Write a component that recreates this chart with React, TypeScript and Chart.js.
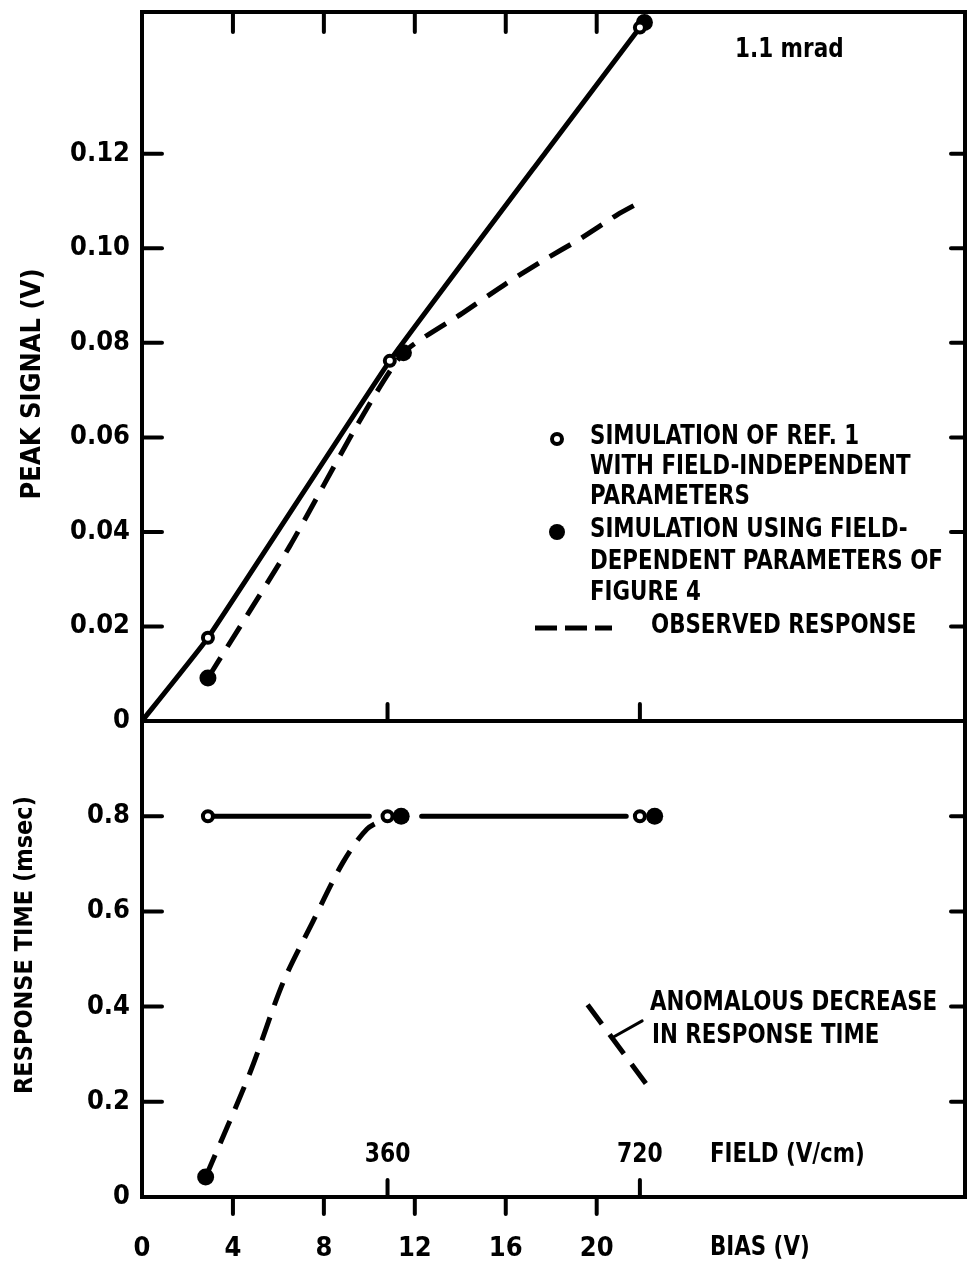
import React, { useEffect, useRef } from 'react';
import { Chart, registerables } from 'chart.js';
Chart.register(...registerables);

// ---------- data ----------
const BIAS_TICKS = [0, 4, 8, 12, 16, 20];
const TOP_TICKS_BIAS = [4, 8, 12, 16, 20];
const FIELD_TICK_BIAS = [10.8, 21.9];
const FIELD_TICK_LABELS = ['360', '720'];
const PEAK_TICKS = [0, 0.02, 0.04, 0.06, 0.08, 0.1, 0.12];
const RESP_TICKS = [0, 0.2, 0.4, 0.6, 0.8];

// top panel: peak signal (V) vs bias (V)
const SIM1_LINE_X = [0, 2.9, 10.9, 17.8, 21.9];
const SIM1_LINE_Y = [0, 0.0176, 0.0762, 0.1206, 0.1467];
const SIM1_PEAK_X = [2.9, 10.9, 21.9];
const SIM1_PEAK_Y = [0.0176, 0.0762, 0.1467];
const SIM2_PEAK_X = [2.9, 11.5, 22.1];
const SIM2_PEAK_Y = [0.0091, 0.0779, 0.1478];
const OBS_PEAK_X = [2.9, 6.5, 9.45, 11.5, 14.1, 16.0, 17.7, 19.2, 20.9, 22.0];
const OBS_PEAK_Y = [0.0091, 0.037, 0.0625, 0.0779, 0.0863, 0.0925, 0.0976, 0.1018, 0.1071, 0.11];

// bottom panel: response time (msec) vs bias (V)
const SIM1_RESP_X = [2.9, 10.8, 21.9];
const SIM1_RESP_Y = [0.8, 0.8, 0.8];
const SIM1_RESP_LINE_X = [2.9, 10.0, 11.1, 12.3, 21.3];
const SIM1_RESP_LINE_Y = [0.8, 0.8, null, 0.8, 0.8];
const SIM2_RESP_X = [2.8, 11.4, 22.55];
const SIM2_RESP_Y = [0.042, 0.8, 0.8];
const OBS_RESP_X = [2.8, 4.75, 6.2, 7.5, 8.84, 9.9, 10.8];
const OBS_RESP_Y = [0.042, 0.261, 0.45, 0.577, 0.703, 0.773, 0.797];
const ANOM_X = [19.6, 22.2];
const ANOM_Y = [0.404, 0.236];
const LEADER_X = [22.0, 20.7];
const LEADER_Y = [0.37, 0.335];

const X_MIN = 0;
const X_MAX = 36.2;

// ---------- styles ----------
const FAMILY = '"DejaVu Sans Condensed", "DejaVu Sans", sans-serif';
const INK = '#000';
const LINE_W = 5;
const DASH = [24, 13];

const zip = (xs: number[], ys: (number | null)[]) => xs.map((x, i) => ({ x, y: ys[i] }));

function txt(ctx: CanvasRenderingContext2D, s: string, x: number, y: number, align: CanvasTextAlign = 'left', size = 27, rot = 0, sx = 0.88) {
  ctx.save();
  ctx.font = `bold ${size}px ${FAMILY}`;
  ctx.fillStyle = INK;
  ctx.textAlign = align;
  ctx.textBaseline = 'middle';
  ctx.translate(x, y);
  if (rot) ctx.rotate(rot);
  ctx.scale(sx, 1);
  ctx.fillText(s, 0, 0);
  ctx.restore();
}

function seg(ctx: CanvasRenderingContext2D, x1: number, y1: number, x2: number, y2: number) {
  ctx.beginPath();
  ctx.moveTo(x1, y1);
  ctx.lineTo(x2, y2);
  ctx.stroke();
}

function drawFrame(chart: any, yTicks: number[], opts: { topTicks: boolean; bottomOut: boolean }) {
  const ctx = chart.ctx as CanvasRenderingContext2D;
  const { left, right, top, bottom } = chart.chartArea;
  const xs = chart.scales.x;
  const ys = chart.scales.y;
  ctx.save();
  ctx.strokeStyle = INK;
  ctx.lineWidth = 4;
  ctx.lineCap = 'square';
  ctx.strokeRect(left, top, right - left, bottom - top);
  ctx.lineCap = 'round';
  ctx.lineWidth = 4;
  yTicks.forEach((v) => {
    if (v === 0) return;
    const py = ys.getPixelForValue(v);
    seg(ctx, left, py, left + 20, py);
    seg(ctx, right - 14, py, right, py);
  });
  if (opts.topTicks) {
    TOP_TICKS_BIAS.forEach((v) => {
      const px = xs.getPixelForValue(v);
      seg(ctx, px, top, px, top + 20);
    });
  }
  FIELD_TICK_BIAS.forEach((v) => {
    const px = xs.getPixelForValue(v);
    seg(ctx, px, bottom, px, bottom - 17);
  });
  if (opts.bottomOut) {
    BIAS_TICKS.forEach((v) => {
      if (v === 0) return;
      const px = xs.getPixelForValue(v);
      seg(ctx, px, bottom, px, bottom + 17);
    });
  }
  ctx.restore();
}

const topDecor = {
  id: 'topDecor',
  afterDraw(chart: any) {
    const ctx = chart.ctx as CanvasRenderingContext2D;
    drawFrame(chart, PEAK_TICKS, { topTicks: true, bottomOut: false });
    txt(ctx, '1.1 mrad', 735, 50, 'left', 26, 0, 0.92);
    // legend
    ctx.save();
    ctx.strokeStyle = INK;
    ctx.fillStyle = '#fff';
    ctx.lineWidth = 4;
    ctx.beginPath();
    ctx.arc(557, 439, 5, 0, Math.PI * 2);
    ctx.fill();
    ctx.stroke();
    ctx.fillStyle = INK;
    ctx.beginPath();
    ctx.arc(557, 532, 8, 0, Math.PI * 2);
    ctx.fill();
    ctx.lineWidth = LINE_W;
    ctx.setLineDash([22, 8]);
    seg(ctx, 535, 628, 612, 628);
    ctx.restore();
    const rows = [
      'SIMULATION OF REF. 1',
      'WITH FIELD-INDEPENDENT',
      'PARAMETERS',
      'SIMULATION USING FIELD-',
      'DEPENDENT PARAMETERS OF',
      'FIGURE 4',
    ];
    const rowsY = [437, 467, 497, 530, 562, 593];
    rows.forEach((r, i) => txt(ctx, r, 590, rowsY[i]));
    txt(ctx, 'OBSERVED RESPONSE', 651, 626);
    txt(ctx, 'PEAK SIGNAL (V)', 33, 384, 'center', 27, -Math.PI / 2, 1);
  },
};

const bottomDecor = {
  id: 'bottomDecor',
  afterDraw(chart: any) {
    const ctx = chart.ctx as CanvasRenderingContext2D;
    drawFrame(chart, RESP_TICKS, { topTicks: false, bottomOut: true });
    const xs = chart.scales.x;
    const off = 700;
    FIELD_TICK_BIAS.forEach((v, i) => txt(ctx, FIELD_TICK_LABELS[i], xs.getPixelForValue(v), 1155 - off, 'center', 27, 0, 0.9));
    txt(ctx, 'FIELD (V/cm)', 710, 1155 - off);
    txt(ctx, 'BIAS (V)', 710, 1248 - off);
    txt(ctx, 'ANOMALOUS DECREASE', 650, 1003 - off);
    txt(ctx, 'IN RESPONSE TIME', 652, 1036 - off);
    txt(ctx, 'RESPONSE TIME (msec)', 25, 945 - off, 'center', 25, -Math.PI / 2, 1);
  },
};

const tickFont = { family: FAMILY, size: 27, weight: 'bold' as const };

function xScale(display: boolean) {
  return {
    type: 'linear' as const,
    min: X_MIN,
    max: X_MAX,
    display,
    position: 'bottom' as const,
    afterFit: (s: any) => {
      s.height = display ? 66 : 0;
      s.paddingLeft = 0;
      s.paddingRight = 0;
      s.paddingTop = 0;
      s.paddingBottom = 0;
    },
    afterBuildTicks: (s: any) => {
      s.ticks = BIAS_TICKS.map((v) => ({ value: v }));
    },
    grid: { display: false, drawTicks: false },
    border: { display: false },
    ticks: { color: INK, font: tickFont, padding: 36, autoSkip: false, maxRotation: 0 },
  };
}

function yScale(max: number, ticks: number[], digits: number) {
  return {
    type: 'linear' as const,
    min: 0,
    max,
    afterFit: (s: any) => {
      s.width = 142;
      s.paddingTop = 0;
      s.paddingBottom = 0;
      s.paddingLeft = 0;
      s.paddingRight = 0;
    },
    afterBuildTicks: (s: any) => {
      s.ticks = ticks.map((v) => ({ value: v }));
    },
    grid: { display: false, drawTicks: false },
    border: { display: false },
    ticks: {
      color: INK,
      font: tickFont,
      padding: 12,
      callback: (v: any) => (Number(v) === 0 ? '0' : Number(v).toFixed(digits)),
    },
  };
}

const common = {
  responsive: false,
  animation: false as const,
  plugins: { legend: { display: false }, tooltip: { enabled: false } },
};

const openPts = { borderColor: INK, backgroundColor: '#fff', pointStyle: 'circle', pointRadius: 5, pointBorderWidth: 4, pointBackgroundColor: '#fff', pointBorderColor: INK, showLine: false };
const fillPts = { borderColor: INK, backgroundColor: INK, pointStyle: 'circle', pointRadius: 8.5, pointBorderWidth: 0, pointBackgroundColor: INK, showLine: false };
const solid = { borderColor: INK, borderWidth: LINE_W, pointRadius: 0, fill: false, showLine: true, borderCapStyle: 'round' as const };
const dashed = { ...solid, borderDash: DASH, borderCapStyle: 'butt' as const };

export default function App() {
  const topRef = useRef<HTMLCanvasElement>(null);
  const botRef = useRef<HTMLCanvasElement>(null);

  useEffect(() => {
    const top = new Chart(topRef.current!, {
      type: 'scatter',
      data: {
        datasets: [
          { ...openPts, data: zip(SIM1_PEAK_X, SIM1_PEAK_Y) },
          { ...fillPts, data: zip(SIM2_PEAK_X, SIM2_PEAK_Y) },
          { ...solid, data: zip(SIM1_LINE_X, SIM1_LINE_Y), tension: 0.1 },
          { ...dashed, data: zip(OBS_PEAK_X, OBS_PEAK_Y), tension: 0.2 },
        ] as any,
      },
      options: {
        ...common,
        layout: { autoPadding: false, padding: { top: 12, right: 2, bottom: 19, left: 0 } },
        scales: { x: xScale(false), y: yScale(0.15, PEAK_TICKS, 2) },
      } as any,
      plugins: [topDecor],
    });
    const bot = new Chart(botRef.current!, {
      type: 'scatter',
      data: {
        datasets: [
          { ...openPts, data: zip(SIM1_RESP_X, SIM1_RESP_Y) },
          { ...fillPts, data: zip(SIM2_RESP_X, SIM2_RESP_Y) },
          { ...solid, data: zip(SIM1_RESP_LINE_X, SIM1_RESP_LINE_Y), spanGaps: false },
          { ...dashed, data: zip(OBS_RESP_X, OBS_RESP_Y), tension: 0.3 },
          { ...dashed, data: zip(ANOM_X, ANOM_Y) },
          { ...solid, borderWidth: 3, data: zip(LEADER_X, LEADER_Y) },
        ] as any,
      },
      options: {
        ...common,
        layout: { autoPadding: false, padding: { top: 21, right: 2, bottom: 0, left: 0 } },
        scales: { x: xScale(true), y: yScale(1, RESP_TICKS, 1) },
      } as any,
      plugins: [bottomDecor],
    });
    return () => {
      top.destroy();
      bot.destroy();
    };
  }, []);

  return (
    <div style={{ position: 'absolute', left: 0, top: 0, width: 967, height: 1263, background: '#fff' }}>
      <canvas ref={botRef} width={967} height={563} style={{ position: 'absolute', left: 0, top: 700, width: 967, height: 563 }} />
      <canvas ref={topRef} width={967} height={740} style={{ position: 'absolute', left: 0, top: 0, width: 967, height: 740 }} />
    </div>
  );
}
